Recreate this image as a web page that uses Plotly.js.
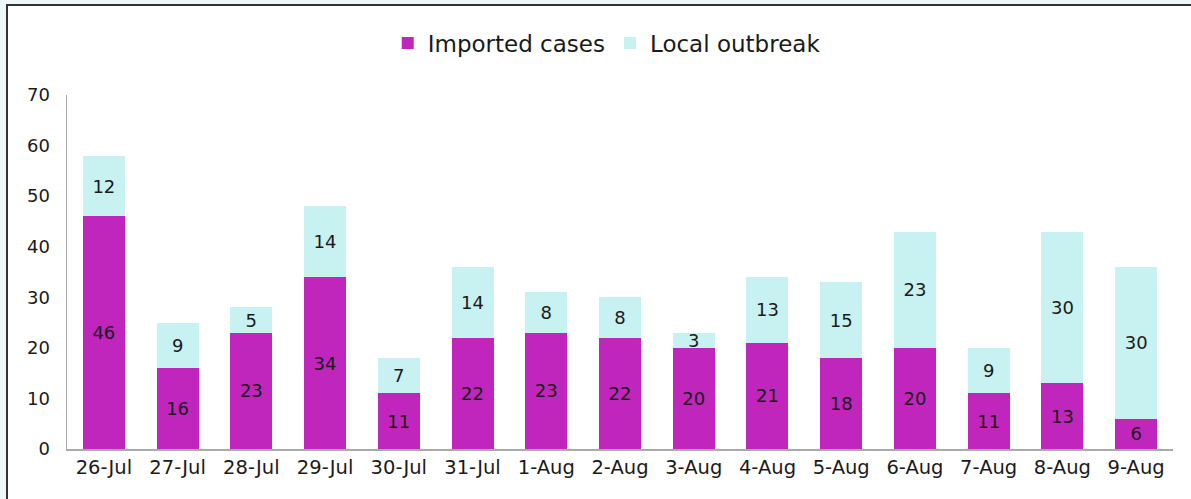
<!DOCTYPE html>
<html>
<head>
<meta charset="utf-8">
<script src="https://cdn.plot.ly/plotly-3.0.1.min.js"></script>
<style>
  html, body { margin: 0; padding: 0; background: #eef8fb; width: 1191px; height: 499px; overflow: hidden; }
  #frame { position: absolute; left: 6px; top: 4px; width: 1185px; height: 495px; background: #ffffff;
           border-left: 2px solid #333; border-top: 2px solid #333; box-sizing: border-box; }
  #chart { position: absolute; left: 8px; top: 6px; width: 1183px; height: 493px; }
</style>
</head>
<body>
<div id="frame"></div>
<div id="chart"></div>
<script>
const categories = ["26-Jul","27-Jul","28-Jul","29-Jul","30-Jul","31-Jul","1-Aug","2-Aug","3-Aug","4-Aug","5-Aug","6-Aug","7-Aug","8-Aug","9-Aug"];
const importedCases = [46,16,23,34,11,22,23,22,20,21,18,20,11,13,6];
const localOutbreak = [12,9,5,14,7,14,8,8,3,13,15,23,9,30,30];
const seriesNames = ["Imported cases","Local outbreak"];
const yTicks = [0,10,20,30,40,50,60,70];

const FONT = "'DejaVu Sans', sans-serif";

const traces = [
  {
    type: "bar", name: seriesNames[0], x: categories, y: importedCases,
    text: importedCases.map(String), textposition: "inside", insidetextanchor: "middle",
    textangle: 0, constraintext: "none", textfont: {color: "#1a1a1a", size: 18, family: FONT},
    marker: {color: "#c026bb"}, hoverinfo: "x+y+name"
  },
  {
    type: "bar", name: seriesNames[1], x: categories, y: localOutbreak,
    text: localOutbreak.map(String), textposition: "inside", insidetextanchor: "middle",
    textangle: 0, constraintext: "none", textfont: {color: "#1a1a1a", size: 18, family: FONT},
    marker: {color: "#c8f1f1"}, hoverinfo: "x+y+name"
  }
];

const layout = {
  width: 1183, height: 493,
  barmode: "stack", bargap: 0.43,
  paper_bgcolor: "rgba(0,0,0,0)", plot_bgcolor: "#ffffff",
  margin: {l: 59, r: 18, t: 89, b: 50},
  font: {family: FONT, color: "#1a1a1a", size: 17},
  showlegend: true,
  legend: {orientation: "h", x: 0.488, xanchor: "center", y: 1.147, yanchor: "middle",
           font: {size: 23, family: FONT, color: "#1a1a1a"}, traceorder: "normal"},
  xaxis: {type: "category", showline: true, linecolor: "#aaaaaa", linewidth: 2,
          ticks: "", tickfont: {size: 19.5}, showgrid: false, zeroline: false, automargin: false},
  yaxis: {range: [0, 70], tickvals: yTicks, ticktext: yTicks.map(String), showline: true,
          linecolor: "#aaaaaa", linewidth: 1.5, ticks: "", showgrid: false, zeroline: false,
          tickfont: {size: 18}, ticklabelstandoff: 12, automargin: false}
};

Plotly.newPlot("chart", traces, layout, {displayModeBar: false, staticPlot: true});
</script>
</body>
</html>
